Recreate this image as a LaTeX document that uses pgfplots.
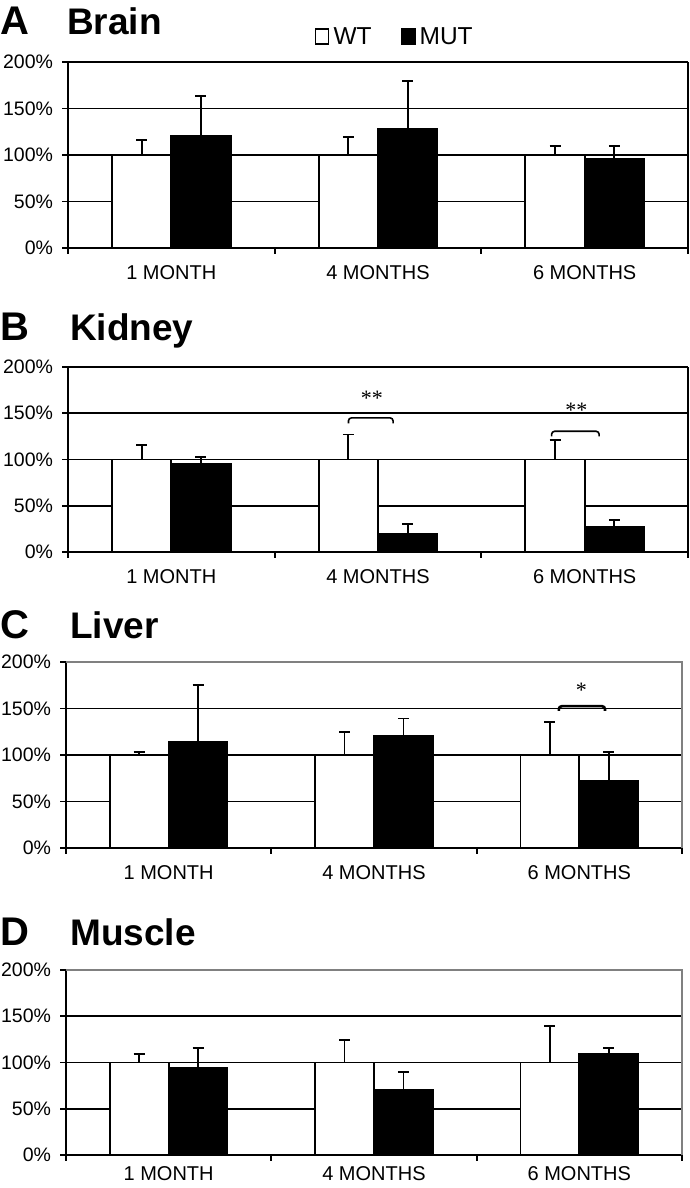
\documentclass[border=0pt]{standalone}
\usepackage{pgfplots}
\pgfplotsset{compat=1.18}
\usepackage{fontspec}
\setmainfont{Liberation Sans}
\newfontfamily\astfont{Liberation Serif}

\pgfplotsset{
  panel/.style={
    scale only axis,
    xmin=-0.5, xmax=2.5, ymin=0, ymax=200,
    axis x line*=bottom, axis y line*=left,
    axis line style={black, line width=1.8pt},
    ytick={0,50,100,150,200},
    yticklabels={0\%,50\%,100\%,150\%,200\%},
    xtick={-0.5,0.5,1.5,2.5}, xticklabels={},
    extra x ticks={0,1,2},
    extra x tick labels={1 MONTH,4 MONTHS,6 MONTHS},
    extra x tick style={major tick length=0pt},
    tick align=outside, major tick length=5.5pt,
    tick style={black, line width=1.8pt},
    ymajorgrids, grid style={black, line width=1.8pt},
    xticklabel style={font=\fontsize{20}{22}\selectfont, yshift=-14pt},
    yticklabel style={font=\fontsize{19.5}{21}\selectfont, xshift=-6pt},
    ybar, bar width=0.287, clip=false,
  },
  errs/.style={error bars/.cd, y dir=plus, y explicit,
    error bar style={black, line width=1.8pt},
    error mark options={rotate=90, black, mark size=5.5pt, line width=1.8pt}},
  wt/.style={fill=white, draw=black, line width=1.8pt, bar shift=-0.1435, errs,
    /pgfplots/legend image code/.code={\path[draw=none, fill=none] (0pt,0pt) rectangle (18pt,1pt);\draw[black, line width=1.8pt, fill=white] (2pt,-7pt) rectangle (15pt,8pt);}},
  mut/.style={fill=black, draw=black, line width=1.8pt, bar shift=0.1435, errs,
    /pgfplots/legend image code/.code={\path[draw=none, fill=none] (0pt,0pt) rectangle (18pt,1pt);\draw[black, line width=1.8pt, fill=black] (2pt,-7pt) rectangle (15pt,8pt);}},
}

\begin{document}
\begin{tikzpicture}
\path[use as bounding box] (0pt,0pt) rectangle (690pt,-1188pt);

% ---------- A Brain ----------
\node[anchor=base west, inner sep=0, font=\bfseries\fontsize{40}{40}\selectfont] at (0pt,-35pt) {A};
\node[anchor=base west, inner sep=0, font=\bfseries\fontsize{37}{37}\selectfont] at (67pt,-35pt) {Brain};
\begin{axis}[panel, width=620pt, height=186pt, at={(68pt,-248pt)}, anchor=south west,
  legend columns=2,
  legend style={at={(0.526,1.134)}, anchor=center, draw=none, fill=none,
    font=\fontsize{24.5}{26}\selectfont,
    /tikz/every even column/.append style={column sep=26pt}}]
\addplot[wt] table[x=x, y=y, y error=e] {
x y e
0 100 16
1 100 19
2 100 10
};
\addplot[mut] table[x=x, y=y, y error=e] {
x y e
0 121 42.6
1 128 52
2 95.7 14.3
};
\legend{WT, MUT}
\draw[black, line width=2.4pt] (rel axis cs:0,1) -- (rel axis cs:1,1);
\draw[black, line width=1.8pt] (rel axis cs:1,1) -- (rel axis cs:1,0);
\end{axis}

% ---------- B Kidney ----------
\node[anchor=base west, inner sep=0, font=\bfseries\fontsize{40}{40}\selectfont] at (0pt,-340pt) {B};
\node[anchor=base west, inner sep=0, font=\bfseries\fontsize{37}{37}\selectfont] at (70pt,-340pt) {Kidney};
\begin{axis}[panel, width=620pt, height=185pt, at={(68pt,-552pt)}, anchor=south west]
\addplot[wt] table[x=x, y=y, y error=e] {
x y e
0 100 16
1 100 27
2 100 20.7
};
\addplot[mut] table[x=x, y=y, y error=e] {
x y e
0 95.5 7.5
1 19.8 10.8
2 26.7 8.3
};
\draw[black, line width=2.4pt] (rel axis cs:0,1) -- (rel axis cs:1,1);
\draw[black, line width=1.8pt] (rel axis cs:1,1) -- (rel axis cs:1,0);
\draw[black, line width=1.6pt, rounded corners=3pt] (axis cs:0.857,139) -- (axis cs:0.857,145) -- (axis cs:1.073,145) -- (axis cs:1.073,139);
\node[font=\astfont\fontsize{22}{22}\selectfont, inner sep=0] at (axis cs:0.97,166) {**};
\draw[black, line width=1.6pt, rounded corners=3pt] (axis cs:1.84,125) -- (axis cs:1.84,130.5) -- (axis cs:2.07,130.5) -- (axis cs:2.07,125);
\node[font=\astfont\fontsize{22}{22}\selectfont, inner sep=0] at (axis cs:1.96,153) {**};
\end{axis}

% ---------- C Liver ----------
\node[anchor=base west, inner sep=0, font=\bfseries\fontsize{40}{40}\selectfont] at (0pt,-638pt) {C};
\node[anchor=base west, inner sep=0, font=\bfseries\fontsize{37}{37}\selectfont] at (70pt,-638pt) {Liver};
\begin{axis}[panel, width=616pt, height=186pt, at={(66pt,-848pt)}, anchor=south west]
\addplot[wt] table[x=x, y=y, y error=e] {
x y e
0 100 3.6
1 100 25
2 100 35.4
};
\addplot[mut] table[x=x, y=y, y error=e] {
x y e
0 114.6 61
1 121 18.3
2 72 31.6
};
\draw[gray, line width=1.8pt] (rel axis cs:0,1) -- (rel axis cs:1,1) -- (rel axis cs:1,0);
\draw[black, line width=2.6pt, rounded corners=3pt] (axis cs:1.90,147.5) -- (axis cs:1.90,152.5) -- (axis cs:2.125,152.5) -- (axis cs:2.125,147.5);
\node[font=\astfont\fontsize{22}{22}\selectfont, inner sep=0] at (axis cs:2.01,170) {*};
\end{axis}

% ---------- D Muscle ----------
\node[anchor=base west, inner sep=0, font=\bfseries\fontsize{40}{40}\selectfont] at (0pt,-945pt) {D};
\node[anchor=base west, inner sep=0, font=\bfseries\fontsize{37}{37}\selectfont] at (70pt,-945pt) {Muscle};
\begin{axis}[panel, width=616pt, height=185pt, at={(66pt,-1155pt)}, anchor=south west,
  xticklabel style={yshift=6pt}]
\addplot[wt] table[x=x, y=y, y error=e] {
x y e
0 100 9.4
1 100 24
2 100 39.2
};
\addplot[mut] table[x=x, y=y, y error=e] {
x y e
0 94.6 20.9
1 70.9 18.7
2 109.7 5.8
};
\draw[gray, line width=1.8pt] (rel axis cs:0,1) -- (rel axis cs:1,1) -- (rel axis cs:1,0);
\end{axis}
\end{tikzpicture}
\end{document}
